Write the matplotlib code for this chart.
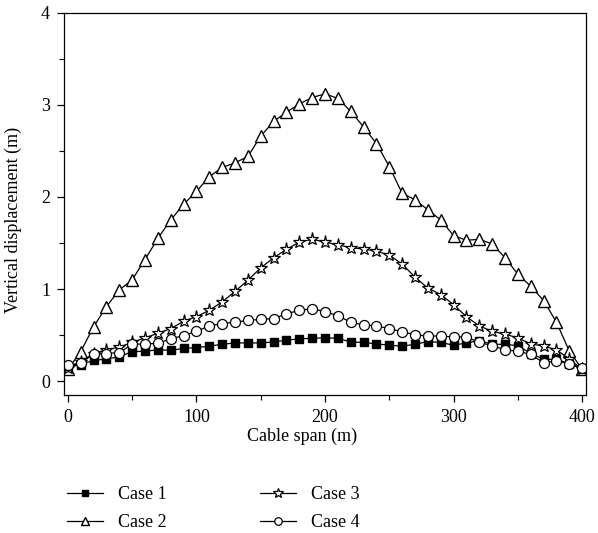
import numpy as np
import matplotlib
matplotlib.use('Agg')
import matplotlib.pyplot as plt
from matplotlib.ticker import MultipleLocator

plt.rcParams['font.family'] = ['Liberation Serif', 'DejaVu Serif']

# cable span positions (m)
span = np.arange(0, 401, 10)

case1 = [0.15, 0.18, 0.225, 0.24, 0.265, 0.32, 0.325, 0.34, 0.335, 0.355,
         0.365, 0.38, 0.40, 0.415, 0.415, 0.415, 0.425, 0.445, 0.46, 0.465,
         0.47, 0.465, 0.425, 0.42, 0.405, 0.39, 0.38, 0.40, 0.43, 0.42,
         0.39, 0.415, 0.44, 0.40, 0.40, 0.385, 0.30, 0.24, 0.235, 0.19, 0.13]

case2 = [0.13, 0.32, 0.59, 0.81, 0.99, 1.10, 1.32, 1.55, 1.75, 1.92,
         2.06, 2.22, 2.32, 2.37, 2.44, 2.66, 2.82, 2.92, 3.01, 3.08,
         3.12, 3.07, 2.93, 2.76, 2.58, 2.33, 2.04, 1.97, 1.86, 1.75,
         1.58, 1.53, 1.54, 1.49, 1.34, 1.16, 1.03, 0.875, 0.64, 0.325, 0.13]

case3 = [0.14, 0.21, 0.30, 0.34, 0.37, 0.42, 0.47, 0.52, 0.57, 0.65,
         0.70, 0.77, 0.86, 0.975, 1.095, 1.23, 1.34, 1.43, 1.51, 1.54,
         1.51, 1.48, 1.45, 1.435, 1.41, 1.37, 1.27, 1.13, 1.01, 0.94,
         0.83, 0.70, 0.60, 0.54, 0.51, 0.47, 0.405, 0.38, 0.34, 0.24, 0.13]

case4 = [0.17, 0.20, 0.29, 0.30, 0.31, 0.40, 0.405, 0.41, 0.46, 0.495,
         0.54, 0.60, 0.625, 0.64, 0.66, 0.67, 0.68, 0.73, 0.77, 0.785,
         0.755, 0.71, 0.64, 0.61, 0.60, 0.57, 0.535, 0.505, 0.49, 0.49,
         0.48, 0.48, 0.42, 0.385, 0.34, 0.325, 0.29, 0.20, 0.22, 0.19, 0.145]

fig = plt.figure(figsize=(5.98, 5.33), dpi=100)
ax = fig.add_axes([0.107, 0.259, 0.873, 0.717])

lw = 0.9
ax.plot(span, case1, '-s', color='black', lw=lw, ms=6.2, mfc='black', mec='black', label='Case 1')
ax.plot(span, case2, '-^', color='black', lw=lw, ms=8.5, mfc='white', mec='black', mew=1.0, label='Case 2')
ax.plot(span, case3, '-*', color='black', lw=lw, ms=9.5, mfc='white', mec='black', mew=0.9, label='Case 3')
ax.plot(span, case4, '-o', color='black', lw=lw, ms=7.2, mfc='white', mec='black', mew=0.9, label='Case 4')

ax.set_xlim(-3, 403)
ax.set_ylim(-0.15, 4)
ax.xaxis.set_major_locator(MultipleLocator(100))
ax.xaxis.set_minor_locator(MultipleLocator(50))
ax.yaxis.set_major_locator(MultipleLocator(1))
ax.yaxis.set_minor_locator(MultipleLocator(0.5))
ax.tick_params(which='major', direction='out', length=5, width=0.9, labelsize=13, pad=5)
ax.tick_params(which='minor', direction='out', length=3.5, width=0.8)
ax.tick_params(top=False, right=False, which='both')
for s in ax.spines.values():
    s.set_linewidth(0.9)

ax.set_xlabel('Cable span (m)', fontsize=13)
ax.set_ylabel('Vertical displacement (m)', fontsize=13)
ax.xaxis.set_label_coords(0.456, -0.085)
ax.yaxis.set_label_coords(-0.08, 0.458)

fig.legend(loc='upper left', bbox_to_anchor=(0.1, 0.102), ncol=2, frameon=False,
           fontsize=13, handlelength=2.0, handletextpad=0.8, columnspacing=5.2,
           labelspacing=0.62, borderaxespad=0, markerscale=0.75)

fig.savefig('out.png', dpi=100)
